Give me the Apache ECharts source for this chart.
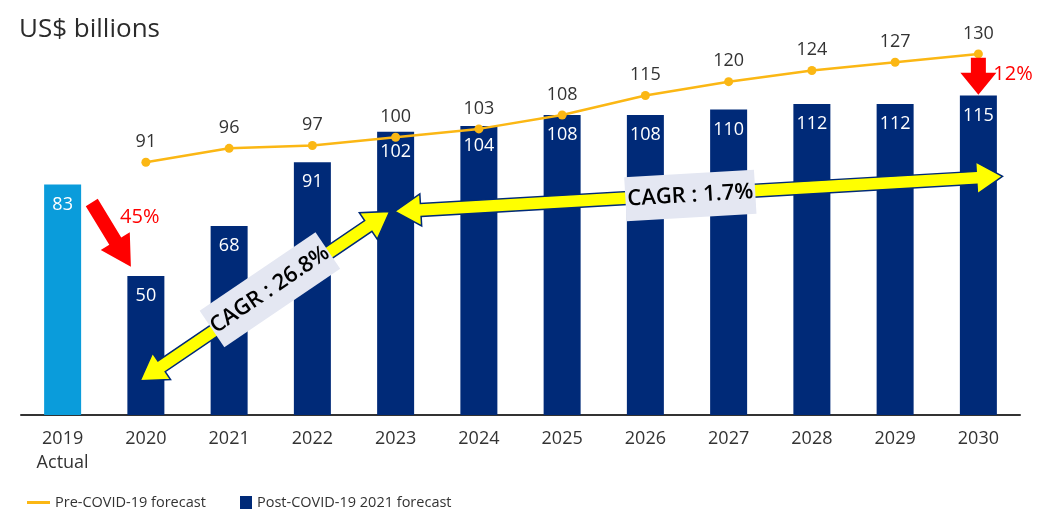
<!DOCTYPE html>
<html><head><meta charset="utf-8">
<script src="https://cdn.jsdelivr.net/npm/echarts@6/dist/echarts.min.js"></script>
<style>html,body{margin:0;padding:0;background:#fff}#c{width:1047px;height:521px}</style>
</head><body><div id="c"></div>
<script>
const categories = ['2019\nActual','2020','2021','2022','2023','2024','2025','2026','2027','2028','2029','2030'];
const postCovid = [83, 50, 68, 91, 102, 104, 108, 108, 110, 112, 112, 115];
const preCovid = ['-', 91, 96, 97, 100, 103, 108, 115, 120, 124, 127, 130];
const seriesNames = ['Pre-COVID-19 forecast', 'Post-COVID-19 2021 forecast'];
const cagrLabels = ['CAGR : 26.8%', 'CAGR : 1.7%'];
const dropLabels = ['45%', '12%'];

const NAVY = '#002a78', LIGHT = '#0a9cdb', GOLD = '#fbb714';
const FONT = '"Open Sans", "Noto Sans", sans-serif';

const chart = echarts.init(document.getElementById('c'), null, {renderer:'canvas'});
const option = {
  animation: false,
  title: {text: 'US$ billions', left: 14, top: 12, textStyle: {fontFamily: FONT, fontSize: 26, fontWeight: 'normal', color: '#2b2b2b'}},
  grid: {left: 21, right: 27, top: 40, bottom: 106},
  legend: [
    {data: [seriesNames[0]], left: 22, top: 490, icon: 'rect', itemWidth: 23, itemHeight: 3, itemGap: 8,
     textStyle: {fontFamily: FONT, fontSize: 14.5, color: '#333'}},
    {data: [seriesNames[1]], left: 235, top: 490, icon: 'rect', itemWidth: 12, itemHeight: 13,
     textStyle: {fontFamily: FONT, fontSize: 14.5, color: '#333'}}
  ],
  xAxis: {type: 'category', data: categories,
    axisLine: {lineStyle: {color: '#333', width: 2}}, axisTick: {show: false},
    axisLabel: {fontFamily: FONT, fontSize: 18, color: '#333', margin: 12, lineHeight: 24}},
  yAxis: {type: 'value', min: 0, max: 135, show: false, splitLine: {show: false}},
  series: [
    {name: seriesNames[1], type: 'bar', barWidth: 37, z: 2,
     itemStyle: {color: NAVY},
     data: postCovid.map((v, i) => i === 0 ? {value: v, itemStyle: {color: LIGHT}} : v),
     label: {show: true, position: 'insideTop', distance: 11, color: '#fff', fontFamily: FONT, fontSize: 18}},
    {name: seriesNames[0], type: 'line', data: preCovid, z: 3,
     lineStyle: {color: GOLD, width: 2.5}, itemStyle: {color: GOLD},
     symbol: 'circle', symbolSize: 9,
     label: {show: true, position: 'top', distance: 7, color: '#333', fontFamily: FONT, fontSize: 18}}
  ]
};
chart.setOption(option);

// annotation helpers: positions in (category index, value) space
const x0 = chart.convertToPixel({xAxisIndex: 0}, categories[0]);
const x1 = chart.convertToPixel({xAxisIndex: 0}, categories[1]);
const step = x1 - x0;
function px(i, v) { return [x0 + i * step, chart.convertToPixel({yAxisIndex: 0}, v)]; }
function arrow(p1, p2, sw, hw, hl, dbl) {
  const dx = p2[0]-p1[0], dy = p2[1]-p1[1], L = Math.hypot(dx, dy);
  const u = [dx/L, dy/L], n = [-u[1], u[0]];
  const P = (b, a, k) => [b[0] + u[0]*a + n[0]*k, b[1] + u[1]*a + n[1]*k];
  const pts = [];
  if (dbl) {
    pts.push(p1, P(p1, hl, hw/2), P(p1, hl, sw/2));
  } else {
    pts.push(P(p1, 0, sw/2));
  }
  pts.push(P(p2, -hl, sw/2), P(p2, -hl, hw/2), p2, P(p2, -hl, -hw/2), P(p2, -hl, -sw/2));
  if (dbl) pts.push(P(p1, hl, -sw/2), P(p1, hl, -hw/2));
  else pts.push(P(p1, 0, -sw/2));
  return pts;
}
function label(c, ang, w, h, txt) {
  return {type: 'group', x: c[0], y: c[1], rotation: ang * Math.PI / 180, children: [
    {type: 'rect', z: 30, shape: {x: -w/2, y: -h/2, width: w, height: h}, style: {fill: '#e4e7f2'}},
    {type: 'text', z: 31, x: 0, y: 0, style: {text: txt, x: 0, y: 0, align: 'center', verticalAlign: 'middle',
      fill: '#000', font: '600 22px ' + FONT}}
  ]};
}
const a1 = px(0.93, 12.3), a2 = px(3.93, 73.3);
const b1 = px(3.99, 73.3), b2 = px(11.29, 85.9);
const angA = Math.atan2(a1[1]-a2[1], a2[0]-a1[0]) * 180 / Math.PI;
const angB = Math.atan2(b1[1]-b2[1], b2[0]-b1[0]) * 180 / Math.PI;
const yellowStyle = {fill: '#ffff00', stroke: NAVY, lineWidth: 1.5};
const graphics = [
  {type: 'polygon', z: 10, shape: {points: arrow(a1, a2, 13, 32, 26, true)}, style: yellowStyle},
  {type: 'polygon', z: 10, shape: {points: arrow(b1, b2, 13, 32, 26, true)}, style: yellowStyle},
  label(px(2.49, 45.1), angA, 140, 44, cagrLabels[0]),
  label(px(7.54, 79), angB, 130, 44, cagrLabels[1]),
  {type: 'polygon', z: 10, shape: {points: arrow(px(0.35, 76.5), px(0.82, 53.4), 14, 34, 30, false)}, style: {fill: '#ff0000'}},
  {type: 'polygon', z: 10, shape: {points: arrow(px(11, 128.6), px(11, 115.3), 15, 36, 22, false)}, style: {fill: '#ff0000'}},
  {type: 'text', z: 10, x: px(0.69, 71)[0], y: px(0.69, 71)[1], style: {text: dropLabels[0], fill: '#ff0000', font: '20px ' + FONT, verticalAlign: 'middle'}},
  {type: 'text', z: 10, x: px(11.18, 122.5)[0], y: px(11.18, 122.5)[1], style: {text: dropLabels[1], fill: '#ff0000', font: '20px ' + FONT, verticalAlign: 'middle'}}
];
chart.setOption({graphic: graphics});
</script></body></html>
